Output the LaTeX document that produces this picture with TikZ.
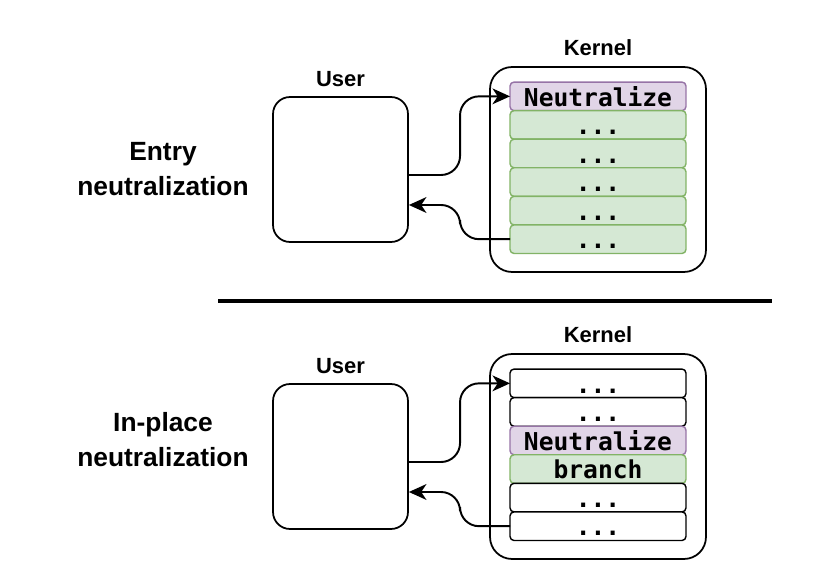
\documentclass[tikz,border=0pt]{standalone}
\usepackage{fontspec}
\setmainfont{Liberation Sans}
\newfontfamily\codefont{DejaVu Sans Mono}
\usepackage{tikz}
\usetikzlibrary{positioning,arrows.meta}
\definecolor{neutfill}{HTML}{E1D5E7}
\definecolor{neutline}{HTML}{9673A6}
\definecolor{brfill}{HTML}{D5E8D4}
\definecolor{brline}{HTML}{82B366}
\tikzset{
	cell/.style={draw, line width=0.8pt, rounded corners=0.08cm, minimum width=3.52cm, minimum height=16.26pt,
		inner sep=0pt, outer sep=0pt, text height=13.7pt, text depth=2.56pt, font=\codefont\bfseries\fontsize{14}{16}\selectfont},
	neutcell/.style={cell, fill=neutfill, draw=neutline},
	greencell/.style={cell, fill=brfill, draw=brline},
	whitecell/.style={cell, fill=white, draw=black},
	userbox/.style={draw, line width=1pt, rounded corners=0.34cm, minimum width=2.7cm, minimum height=2.9cm},
	kernbox/.style={draw, line width=1pt, rounded corners=0.44cm, minimum width=4.32cm, minimum height=4.1cm},
	title/.style={font=\bfseries\fontsize{12.5}{15}\selectfont},
	section/.style={font=\bfseries\fontsize{15}{20}\selectfont, align=center},
	flow/.style={line width=1.1pt, rounded corners=0.38cm, -{Stealth[length=10pt,width=9pt,inset=3pt]}}
}

\begin{document}
\begin{tikzpicture}[x=0.02cm, y=-0.02cm]
			%%%%% START %%%%%
			\useasboundingbox (0, 0) rectangle (828, 588);
			
			% entry neutralization
			\node[section] (secA) at (163, 169) {Entry\\neutralization};
			\node[userbox] (usrA) at (340.5, 169.5) {};
			\node[title] (usrAlbl) at (340.5, 79) {User};
			\node[kernbox] (kerA) at (598, 169.5) {};
			\node[title] (kerAlbl) at (598, 48) {Kernel};
			
			\node[neutcell] (ent1) at (598, 96.35) {Neutralize};
			\node[greencell, below=0pt of ent1] (ent2) {...};
			\node[greencell, below=0pt of ent2] (ent3) {...};
			\node[greencell, below=0pt of ent3] (ent4) {...};
			\node[greencell, below=0pt of ent4] (ent5) {...};
			\node[greencell, below=0pt of ent5] (ent6) {...};
			
			\draw[flow] ([yshift=-0.11cm]usrA.east) -| ([xshift=-1cm]ent1.west) -- (ent1.west);
			\draw[flow] (ent6.west) -- ([xshift=-1cm]ent6.west) |- ([yshift=-0.71cm]usrA.east);
			
			\draw[line width=2.8pt] (218, 301) -- (772, 301);
			
			% in-place neutralization
			\node[section] (secB) at (163, 440) {In-place\\neutralization};
			\node[userbox] (usrB) at (340.5, 456.5) {};
			\node[title] (usrBlbl) at (340.5, 366) {User};
			\node[kernbox] (kerB) at (598, 456.5) {};
			\node[title] (kerBlbl) at (598, 335) {Kernel};
			
			\node[whitecell] (inp1) at (598, 383.35) {...};
			\node[whitecell, below=0pt of inp1] (inp2) {...};
			\node[neutcell, below=0pt of inp2] (inp3) {Neutralize};
			\node[greencell, below=0pt of inp3] (inp4) {branch};
			\node[whitecell, below=0pt of inp4] (inp5) {...};
			\node[whitecell, below=0pt of inp5] (inp6) {...};
			
			\draw[flow] ([yshift=-0.11cm]usrB.east) -| ([xshift=-1cm]inp1.west) -- (inp1.west);
			\draw[flow] (inp6.west) -- ([xshift=-1cm]inp6.west) |- ([yshift=-0.71cm]usrB.east);
			
			%%%%% END %%%%%
\end{tikzpicture}
\end{document}
